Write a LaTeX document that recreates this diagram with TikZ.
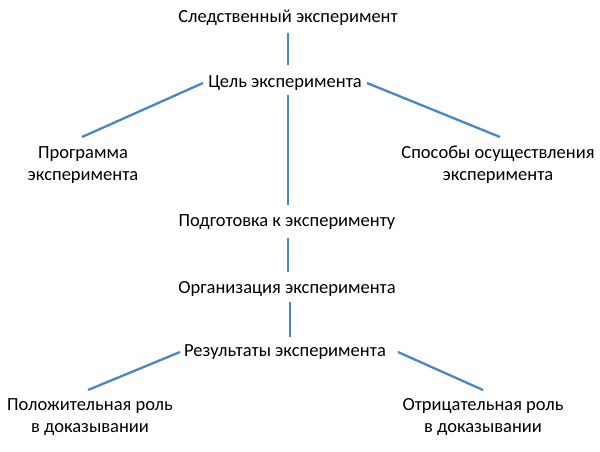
\documentclass[tikz,border=0pt]{standalone}
\usepackage{fontspec}
\setmainfont{Carlito}
\definecolor{ln}{RGB}{74,134,196}
\begin{document}
\begin{tikzpicture}[x=1pt,y=-1pt,
  lbl/.style={font=\fontsize{18.5}{22}\selectfont,align=center,inner sep=0pt},
  conn/.style={draw=ln,line width=2.3pt}]
\useasboundingbox (0,0) rectangle (600,451);
\node[lbl] (a) at (288,18) {Следственный эксперимент};
\node[lbl] (b) at (285,83) {Цель эксперимента};
\node[lbl] (c) at (83,165) {Программа\\эксперимента};
\node[lbl] (d) at (498,165) {Способы осуществления\\эксперимента};
\node[lbl] (e) at (287,222) {Подготовка к эксперименту};
\node[lbl] (f) at (287,289) {Организация эксперимента};
\node[lbl] (g) at (285,352) {Результаты эксперимента};
\node[lbl] (h) at (90,417) {Положительная роль\\в доказывании};
\node[lbl] (i) at (483,417) {Отрицательная роль\\в доказывании};
\coordinate (a1) at (288,33); \coordinate (b0) at (288,65);
\coordinate (bl) at (203,83); \coordinate (cl) at (82,137);
\coordinate (br) at (367,83); \coordinate (dr) at (500,137);
\coordinate (b1) at (288,95); \coordinate (e0) at (288,205);
\coordinate (e1) at (288,238); \coordinate (f0) at (288,272);
\coordinate (f1) at (290,302); \coordinate (g0) at (290,337);
\coordinate (gl) at (180,352); \coordinate (hl) at (88,390);
\coordinate (gr) at (398,352); \coordinate (ir) at (483,390);
\draw[conn] (a1) -- (b0);
\draw[conn] (bl) -- (cl);
\draw[conn] (br) -- (dr);
\draw[conn] (b1) -- (e0);
\draw[conn] (e1) -- (f0);
\draw[conn] (f1) -- (g0);
\draw[conn] (gl) -- (hl);
\draw[conn] (gr) -- (ir);
\end{tikzpicture}
\end{document}
